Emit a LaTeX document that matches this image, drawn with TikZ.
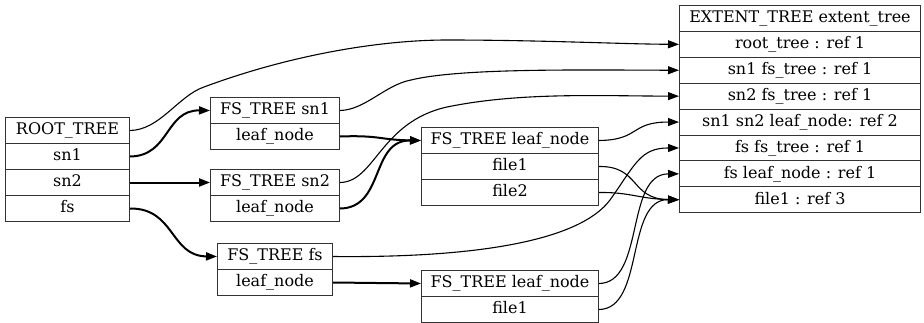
\documentclass[tikz,border=0pt]{standalone}
\usepackage{fontspec}
\setmainfont{DejaVu Serif}
\usetikzlibrary{arrows.meta,positioning}

\tikzset{
  field/.style={draw=black!80, line width=1pt, anchor=north west, inner sep=0pt,
    minimum height=26pt, text height=13pt, text depth=4.4pt,
    font=\fontsize{16}{19}\selectfont},
  link/.style={line width=1.1pt, -{Triangle[length=11pt,width=8pt]}},
  heavy/.style={link, line width=2pt},
}

\begin{document}
\begin{tikzpicture}[x=1pt,y=-1pt]
  \useasboundingbox (0,0) rectangle (924,322);
  \foreach \t [count=\i from 0] in {ROOT\_TREE, sn1, sn2, fs}
    \node[field, minimum width=124pt] (rt\i) at (5,{117+26*\i}) {\t};
  \foreach \t [count=\i from 0] in {FS\_TREE sn1, leaf\_node}
    \node[field, minimum width=129pt] (s1\i) at (210,{97+26*\i}) {\t};
  \foreach \t [count=\i from 0] in {FS\_TREE sn2, leaf\_node}
    \node[field, minimum width=129pt] (s2\i) at (210,{169+26*\i}) {\t};
  \foreach \t [count=\i from 0] in {FS\_TREE fs, leaf\_node}
    \node[field, minimum width=115pt] (fs\i) at (217,{243+26*\i}) {\t};
  \foreach \t [count=\i from 0] in {FS\_TREE leaf\_node, file1, file2}
    \node[field, minimum width=177pt] (ml\i) at (421,{127+26*\i}) {\t};
  \foreach \t [count=\i from 0] in {FS\_TREE leaf\_node, file1}
    \node[field, minimum width=177pt] (bl\i) at (421,{270+26*\i}) {\t};
  \foreach \t [count=\i from 0] in {EXTENT\_TREE extent\_tree, root\_tree : ref 1,
      sn1 fs\_tree : ref 1, sn2 fs\_tree : ref 1, sn1 sn2 leaf\_node: ref 2,
      fs fs\_tree : ref 1, fs leaf\_node : ref 1, file1 : ref 3}
    \node[field, minimum width=241pt, minimum height=25.9pt] (ex\i) at (679,{5+25.9*\i}) {\t};

  \draw[heavy] (rt1.east) .. controls (170,156) and (165,110) .. (s10.west);
  \draw[heavy] (rt2.east) -- (s20.west);
  \draw[heavy] (rt3.east) .. controls (175,208) and (170,256) .. (fs0.west);
  \draw[heavy] (s11.east) .. controls (380,135) and (380,140) .. (ml0.west);
  \draw[heavy] (s21.east) .. controls (385,208) and (370,140) .. (ml0.west);
  \draw[heavy] (fs1.east) -- (bl0.west);

  \draw[link] (rt0.east) .. controls (160,130) and (178,96) .. (204,87)
    .. controls (290,55) and (380,40) .. (447,40) .. controls (540,40) and (620,44) .. (ex1.west);
  \draw[link] (s10.east) .. controls (365,110) and (385,85) .. (411,80)
    .. controls (460,68) and (580,70) .. (ex2.west);
  \draw[link] (s20.east) .. controls (375,182) and (380,122) .. (447,107)
    .. controls (520,92) and (600,96) .. (ex3.west);
  \draw[link] (ml0.east) .. controls (640,140) and (630,122) .. (ex4.west);
  \draw[link] (ml1.east) .. controls (640,166) and (630,199) .. (ex7.west);
  \draw[link] (ml2.east) .. controls (630,192) and (640,199) .. (ex7.west);
  \draw[link] (fs0.east) .. controls (480,258) and (580,240) .. (610,200)
    .. controls (635,165) and (640,148) .. (ex5.west);
  \draw[link] (bl0.east) .. controls (645,283) and (625,174) .. (ex6.west);
  \draw[link] (bl1.east) .. controls (645,309) and (625,199) .. (ex7.west);
\end{tikzpicture}
\end{document}
